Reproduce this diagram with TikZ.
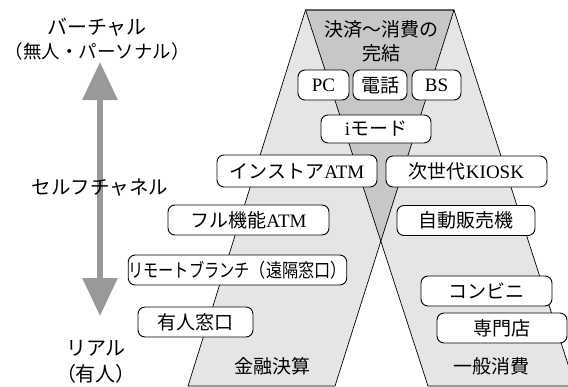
\documentclass[tikz,border=0pt]{standalone}
\usepackage{fontspec}
\setmainfont{Liberation Serif}
\newfontfamily\jp{Noto Sans CJK JP}
\usetikzlibrary{arrows.meta}
\definecolor{lightfill}{gray}{0.90}
\definecolor{darkfill}{gray}{0.78}
\definecolor{arrowgray}{gray}{0.60}
\begin{document}
\begin{tikzpicture}[x=1pt,y=-1pt,
  box/.style={draw=black, line width=0.9pt, fill=white, rounded corners=7pt,
    inner sep=0pt, minimum height=30pt, font=\fontsize{19}{22}\selectfont},
  lbl/.style={font=\jp\fontsize{19.5}{24}\selectfont, inner sep=0pt},
  sidelbl/.style={font=\jp\fontsize{20}{24}\selectfont, inner sep=0pt},
  catlbl/.style={font=\jp\fontsize{19}{24}\selectfont, inner sep=0pt},
  shapeline/.style={draw=black, line width=0.7pt},
  bigarrow/.style={draw=arrowgray, line width=6pt,
    {Triangle[length=38pt,width=34pt]}-{Triangle[length=38pt,width=34pt]}}]
\useasboundingbox (0,0) rectangle (568,386);
\begin{scope}
\clip (0,0) rectangle (568,386);
\coordinate (tl) at (305.5,10);
\coordinate (tr) at (454,10);
\coordinate (lbl) at (188,386);
\coordinate (lbr) at (335,386);
\coordinate (rbl) at (428,386);
\coordinate (rbr) at (575,386);
\coordinate (cross) at (intersection of tr--lbr and tl--rbl);
\fill[lightfill] (tl) -- (tr) -- (lbr) -- (lbl) -- cycle;
\fill[lightfill] (tl) -- (tr) -- (rbr) -- (rbl) -- cycle;
\fill[darkfill] (tl) -- (tr) -- (cross) -- cycle;
\draw[shapeline] (tl) -- (tr) -- (lbr) -- (lbl) -- cycle;
\draw[shapeline] (tl) -- (tr) -- (rbr) -- (rbl) -- cycle;
\end{scope}

\node[catlbl] (top1) at (381,29) {決済～消費の};
\node[catlbl] (top2) at (381,53) {完結};
\node[catlbl] (fin) at (272,366) {金融決算};
\node[catlbl] (cons) at (491,366) {一般消費};

\node[box, minimum width=51pt] (pc) at (323.5,85) {PC};
\node[box, minimum width=54pt] (tel) at (380,85) {\jp 電話};
\node[box, minimum width=49pt] (bs) at (436.5,85) {BS};
\node[box, minimum width=110pt, minimum height=28pt] (imode) at (376,129) {i{\jp モード}};
\node[box, minimum width=160pt, minimum height=32pt] (instore) at (297,171) {{\jp インストア}ATM};
\node[box, minimum width=161pt, minimum height=31pt] (kiosk) at (466.5,171.5) {{\jp 次世代}KIOSK};
\node[box, minimum width=161pt] (fullatm) at (248.5,220) {{\jp フル機能}ATM};
\node[box, minimum width=138pt] (vending) at (466,220.5) {\jp 自動販売機};
\node[box, minimum width=209pt] (remote) at (237.5,270) {\jp \scalebox{0.8}[1]{リモートブランチ}\scalebox{0.85}[1]{（遠隔窓口）}};
\node[box, minimum width=115pt] (yujin) at (195.5,322) {\jp 有人窓口};
\node[box, minimum width=131pt] (conv) at (486.5,291) {\jp コンビニ};
\node[box, minimum width=130pt] (senmon) at (502,328) {\jp 専門店};

\node[sidelbl] (virt) at (97,27) {バーチャル};
\node[sidelbl, font=\jp\fontsize{18.5}{24}\selectfont] (virt2) at (97.5,51) {（無人・パーソナル）};
\node[sidelbl] (real) at (96,348) {リアル};
\node[sidelbl] (real2) at (96,374) {（有人）};
\coordinate (atop) at (100,62);
\coordinate (abot) at (100,316);
\draw[bigarrow] (atop) -- (abot);
\node[lbl] (self) at (100,188) {セルフチャネル};
\end{tikzpicture}
\end{document}
